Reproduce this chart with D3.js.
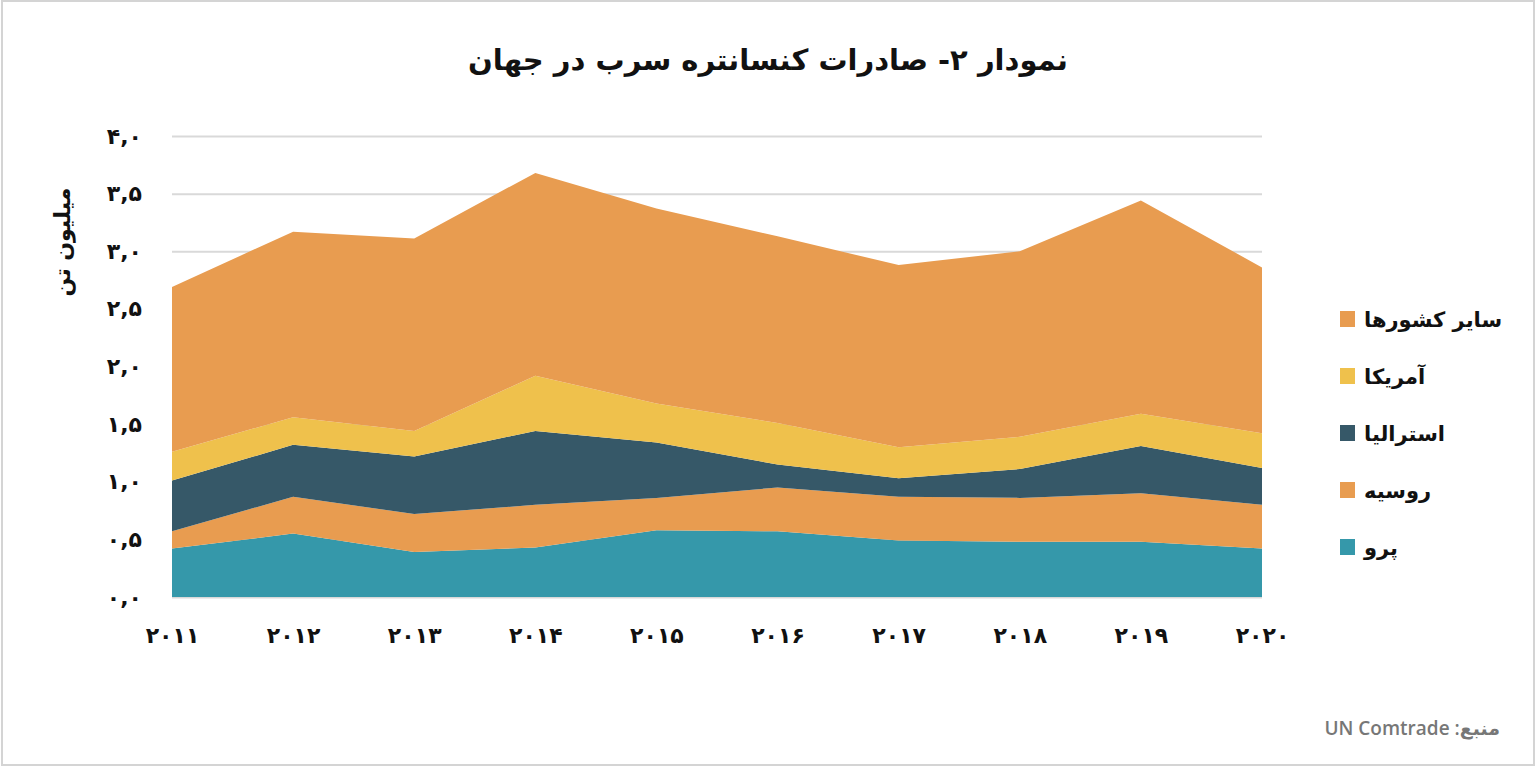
<!DOCTYPE html>
<html>
<head>
<meta charset="utf-8">
<script src="https://cdn.jsdelivr.net/npm/d3@7"></script>
<style>
  body { margin: 0; background: #fff; }
  svg text { font-family: "DejaVu Sans", "Noto Sans", sans-serif; }
</style>
</head>
<body>
<div class="vis-area"></div>
<script>
// values in million tonnes
const years = [2011, 2012, 2013, 2014, 2015, 2016, 2017, 2018, 2019, 2020];
const peru = [0.42, 0.55, 0.39, 0.43, 0.58, 0.57, 0.49, 0.48, 0.48, 0.42];
const russia = [0.15, 0.32, 0.33, 0.37, 0.28, 0.38, 0.38, 0.38, 0.42, 0.38];
const australia = [0.44, 0.45, 0.50, 0.64, 0.48, 0.20, 0.16, 0.25, 0.41, 0.32];
const usa = [0.25, 0.24, 0.22, 0.48, 0.34, 0.36, 0.27, 0.28, 0.28, 0.30];
const others = [1.43, 1.61, 1.67, 1.76, 1.69, 1.62, 1.58, 1.61, 1.85, 1.44];

const seriesKeys = ['peru', 'russia', 'australia', 'usa', 'others'];
const seriesNames = ['پرو', 'روسیه', 'استرالیا', 'آمریکا', 'سایر کشورها'];
const seriesColors = ['#3598aa', '#e89c50', '#365868', '#efc14c', '#e89c50'];
const yTicks = [0, 0.5, 1, 1.5, 2, 2.5, 3, 3.5, 4];

const title = 'نمودار ۲- صادرات کنسانتره سرب در جهان';
const yTitle = 'میلیون تن';
const source = 'منبع: UN Comtrade';

const draw = () => {
    const W = 1536, H = 767;
    const margin = { top: 136, right: 274, bottom: 170, left: 172 };
    const width = W - margin.left - margin.right;
    const height = H - margin.top - margin.bottom;

    const fa = s => String(s).replace(/[0-9]/g, c => '۰۱۲۳۴۵۶۷۸۹'[+c]);

    const table = years.map((yr, i) => ({
        year: yr, peru: peru[i], russia: russia[i], australia: australia[i], usa: usa[i], others: others[i]
    }));

    const svg = d3.select('.vis-area')
        .append('svg')
        .attr('width', W)
        .attr('height', H);

    // frame
    svg.append('rect')
        .attr('x', 2).attr('y', 1)
        .attr('width', W - 4).attr('height', H - 3)
        .attr('fill', '#fff')
        .attr('stroke', '#d4d4d4')
        .attr('stroke-width', 2);

    const g = svg.append('g')
        .attr('transform', 'translate(' + margin.left + ',' + margin.top + ')');

    const x = d3.scaleLinear().domain([2011, 2020]).range([0, width]);
    const y = d3.scaleLinear().domain([0, 4]).range([height, 0]);

    // gridlines
    const grid = g.append('g')
        .call(d3.axisLeft(y).tickValues(yTicks).tickSize(-width).tickFormat(''));
    grid.select('.domain').remove();
    grid.selectAll('line').attr('stroke', '#d9d9d9').attr('stroke-width', 2);

    const stack = d3.stack().keys(seriesKeys);
    const area = d3.area()
        .x(d => x(d.data.year))
        .y0(d => y(d[0]))
        .y1(d => y(d[1]));

    g.selectAll('path.layer')
        .data(stack(table))
        .enter()
        .append('path')
        .attr('class', 'layer')
        .attr('d', area)
        .attr('fill', (d, i) => seriesColors[i]);

    // y axis labels
    const ya = g.append('g')
        .call(d3.axisLeft(y).tickValues(yTicks).tickSize(0).tickPadding(30)
            .tickFormat(d => fa(d.toFixed(1)).replace('.', ',')));
    ya.select('.domain').remove();
    ya.selectAll('text')
        .style('font-size', '22px')
        .style('font-weight', 'bold')
        .attr('fill', '#111')
        .attr('direction', 'ltr');

    // x axis labels
    const xa = g.append('g')
        .attr('transform', 'translate(0,' + height + ')')
        .call(d3.axisBottom(x).tickValues(years).tickSize(0).tickPadding(30)
            .tickFormat(d => fa(d)));
    xa.select('.domain').remove();
    xa.selectAll('text')
        .style('font-size', '22px')
        .style('font-weight', 'bold')
        .attr('fill', '#111')
        .attr('direction', 'ltr');

    // title
    svg.append('text')
        .attr('x', 768)
        .attr('y', 70)
        .attr('text-anchor', 'middle')
        .attr('direction', 'rtl')
        .style('font-size', '29px')
        .style('font-weight', 'bold')
        .attr('fill', '#111')
        .text(title);

    // y axis title
    svg.append('text')
        .attr('transform', 'translate(70,242) rotate(-90)')
        .attr('text-anchor', 'middle')
        .attr('direction', 'rtl')
        .style('font-size', '22px')
        .style('font-weight', 'bold')
        .attr('fill', '#111')
        .text(yTitle);

    // legend, top row is the top layer
    const legendOrder = [4, 3, 2, 1, 0];
    const legendG = svg.selectAll('.legend')
        .data(legendOrder)
        .enter().append('g')
        .attr('class', 'legend')
        .attr('transform', (d, i) => 'translate(1340,' + (319 + i * 57) + ')');

    legendG.append('rect')
        .attr('x', 0)
        .attr('y', -8)
        .attr('width', 15)
        .attr('height', 16)
        .attr('fill', d => seriesColors[d]);

    legendG.append('text')
        .attr('x', 24)
        .attr('y', 8)
        .attr('direction', 'rtl')
        .attr('text-anchor', 'end')
        .style('font-size', '21px')
        .style('font-weight', 'bold')
        .attr('fill', '#111')
        .text(d => seriesNames[d]);

    // source
    svg.append('text')
        .attr('x', 1500)
        .attr('y', 735)
        .attr('direction', 'rtl')
        .attr('text-anchor', 'start')
        .style('font-family', '"Open Sans", "DejaVu Sans", sans-serif')
        .style('font-size', '19px')
        .style('font-weight', '600')
        .attr('fill', '#777')
        .text(source);
};

draw();
</script>
</body>
</html>
